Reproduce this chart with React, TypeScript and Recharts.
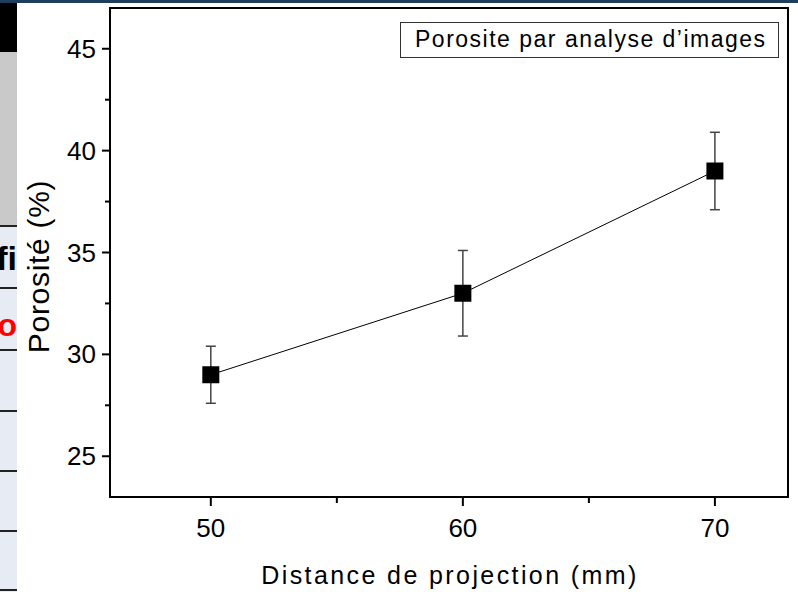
import React from 'react';
import {
  ScatterChart,
  Scatter,
  XAxis,
  YAxis,
  ErrorBar,
  ReferenceArea,
  Legend,
  Label,
} from 'recharts';

// ---- Data ----
const distances = [50, 60, 70];
const porosity = [29.0, 33.0, 39.0];
const porosityError = [1.4, 2.1, 1.9];

const xMajorTicks = [50, 60, 70];
const xMinorTicks = [55, 65];
const yMajorTicks = [25, 30, 35, 40, 45];
const yMinorTicks = [27.5, 32.5, 37.5, 42.5];

const seriesName = 'Porosite par analyse d\u2019images';
const xTitle = 'Distance de projection (mm)';
const yTitle = 'Porosité (%)';

const data = distances.map((d, i) => ({ x: d, y: porosity[i], err: porosityError[i] }));

const FONT = '"Liberation Sans", Arial, sans-serif';

const XTick = (props: any) => {
  const { x, y, payload } = props;
  const major = xMajorTicks.includes(payload.value);
  return (
    <g>
      <line x1={x} x2={x} y1={y} y2={y + (major ? 9 : 6)} stroke="#000" strokeWidth={2} />
      {major && (
        <text x={x} y={y + 40} textAnchor="middle" fontFamily={FONT} fontSize={26} fill="#000">
          {payload.value}
        </text>
      )}
    </g>
  );
};

const YTick = (props: any) => {
  const { x, y, payload } = props;
  const major = yMajorTicks.includes(payload.value);
  return (
    <g>
      <line x1={x} x2={x - (major ? 8 : 5)} y1={y} y2={y} stroke="#000" strokeWidth={2} />
      {major && (
        <text x={x - 14} y={y + 9} textAnchor="end" fontFamily={FONT} fontSize={26} fill="#000">
          {payload.value}
        </text>
      )}
    </g>
  );
};

const XTitle = (props: any) => {
  const vb = props.viewBox || {};
  return (
    <text
      x={vb.x + vb.width / 2 + 1}
      y={vb.y + 87}
      textAnchor="middle"
      fontFamily={FONT}
      fontSize={25}
      letterSpacing={2.4}
      fill="#000"
    >
      {xTitle}
    </text>
  );
};

const YTitle = (props: any) => {
  const vb = props.viewBox || {};
  const cx = vb.x - 1;
  const cy = vb.y + vb.height / 2 + 14;
  return (
    <text
      x={cx}
      y={cy}
      transform={`rotate(-90, ${cx}, ${cy})`}
      textAnchor="middle"
      fontFamily={FONT}
      fontSize={30}
      letterSpacing={0.7}
      fill="#000"
    >
      {yTitle}
    </text>
  );
};

const Square = (props: any) => {
  const { cx, cy } = props;
  return <rect x={cx - 8.5} y={cy - 8.5} width={17} height={17} fill="#000" />;
};

const LegendBox = () => (
  <div
    style={{
      boxSizing: 'border-box',
      width: 379,
      height: 36,
      border: '1.5px solid #333',
      background: '#fff',
      fontFamily: FONT,
      fontSize: 23,
      letterSpacing: 1.5,
      lineHeight: '33px',
      paddingLeft: 14,
      color: '#000',
      whiteSpace: 'nowrap',
    }}
  >
    {seriesName}
  </div>
);

const sideLines = [225, 287, 349, 410, 470, 530, 589];

export default function App() {
  return (
    <div style={{ position: 'absolute', left: 0, top: 0, width: 798, height: 592, background: '#fff', overflow: 'hidden' }}>
      {/* residual slide decoration on the left / top edges */}
      <div style={{ position: 'absolute', left: 0, top: 0, width: 798, height: 3, background: '#1f3d5c' }} />
      <div style={{ position: 'absolute', left: 0, top: 3, width: 17, height: 49, background: '#000' }} />
      <div style={{ position: 'absolute', left: 0, top: 52, width: 17, height: 173, background: '#c9c9c9' }} />
      <div style={{ position: 'absolute', left: 0, top: 225, width: 17, height: 367, background: '#e7ebf4' }} />
      {sideLines.map((t) => (
        <div key={t} style={{ position: 'absolute', left: 0, top: t, width: 17, height: 2, background: '#222' }} />
      ))}
      <div style={{ position: 'absolute', left: -14, top: 236, width: 31, height: 44, overflow: 'hidden', fontFamily: FONT, fontWeight: 'bold', fontSize: 34, color: '#000', textAlign: 'right', lineHeight: '44px' }}>
        fi
      </div>
      <div style={{ position: 'absolute', left: -3, top: 305, width: 20, height: 40, overflow: 'hidden', fontFamily: FONT, fontWeight: 'bold', fontSize: 32, color: '#ff0000', textAlign: 'right', lineHeight: '40px' }}>
        o
      </div>

      <div style={{ position: 'absolute', left: 0, top: 0 }}>
        <ScatterChart width={798} height={592} margin={{ top: 8, right: 10, bottom: 65, left: 50 }}>
          <XAxis
            type="number"
            dataKey="x"
            domain={[46, 72.9]}
            allowDataOverflow
            ticks={[...xMajorTicks, ...xMinorTicks].sort((a, b) => a - b)}
            interval={0}
            tickSize={0}
            tickMargin={0}
            tickLine={false}
            tick={<XTick />}
            axisLine={{ stroke: '#000', strokeWidth: 2 }}
            height={30}
            label={<Label content={<XTitle />} />}
          />
          <YAxis
            type="number"
            dataKey="y"
            domain={[23, 47]}
            allowDataOverflow
            ticks={[...yMajorTicks, ...yMinorTicks].sort((a, b) => a - b)}
            interval={0}
            tickSize={0}
            tickMargin={0}
            tickLine={false}
            tick={<YTick />}
            axisLine={{ stroke: '#000', strokeWidth: 2 }}
            width={60}
            label={<Label content={<YTitle />} />}
          />
          <ReferenceArea x1={46} x2={72.9} y1={23} y2={47} fill="none" stroke="#000" strokeWidth={2} fillOpacity={0} />
          <Legend
            layout="horizontal"
            verticalAlign="middle"
            align="center"
            content={<LegendBox />}
            wrapperStyle={{ left: 400, top: 22, width: 379, height: 36, margin: 0 }}
          />
          <Scatter
            name={seriesName}
            data={data}
            fill="#000"
            line={{ stroke: '#000', strokeWidth: 1 }}
            shape={<Square />}
            isAnimationActive={false}
          >
            <ErrorBar dataKey="err" direction="y" width={5} stroke="#444" strokeWidth={1.5} />
          </Scatter>
        </ScatterChart>
      </div>
    </div>
  );
}
